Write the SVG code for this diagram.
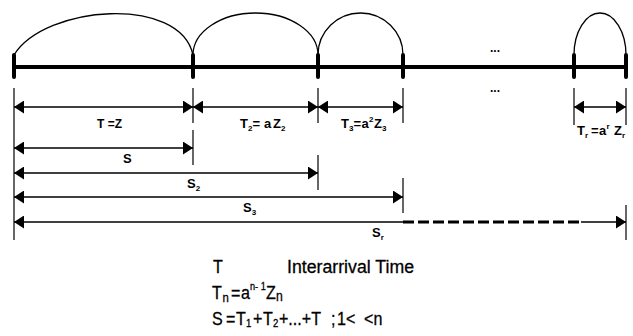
<svg xmlns="http://www.w3.org/2000/svg" width="633" height="336" viewBox="0 0 633 336">
<style>
.bg{fill:#fff}
.tick{stroke:#000;stroke-width:4;stroke-linecap:round;fill:none}
.main{stroke:#000;stroke-width:4;fill:none}
.arc{stroke:#000;stroke-width:1.3;fill:none}
.ext{stroke:#000;stroke-width:1.2;fill:none}
.dim{stroke:#000;stroke-width:1.4;fill:none}
.dash{stroke:#000;stroke-width:3;stroke-dasharray:11 4;fill:none}
.lbl{font-family:"Liberation Sans",Arial,sans-serif;font-weight:bold;font-size:13px;fill:#000}
.sm{font-size:8px}
.big{font-family:"Liberation Sans",Arial,sans-serif;font-size:18.5px;fill:#000;stroke:#000;stroke-width:0.3}
.dots{font-family:"Liberation Sans",Arial,sans-serif;font-weight:bold;font-size:12px;fill:#000}
</style>
<defs>
<marker id="ah" viewBox="0 0 10 13" refX="10" refY="6.5" markerWidth="10" markerHeight="13" markerUnits="userSpaceOnUse" orient="auto-start-reverse">
<path d="M0,0 L10,6.5 L0,13 z" fill="#000"/>
</marker>
</defs>
<rect class="bg" x="0" y="0" width="633" height="336"/>

<g id="timeline">
<line class="main" x1="14" y1="67" x2="626" y2="67"/>
<line class="tick" x1="14" y1="55" x2="14" y2="77"/>
<line class="tick" x1="193" y1="55" x2="193" y2="77"/>
<line class="tick" x1="318" y1="55" x2="318" y2="77"/>
<line class="tick" x1="403" y1="55" x2="403" y2="77"/>
<line class="tick" x1="574" y1="55" x2="574" y2="77"/>
<line class="tick" x1="626" y1="55" x2="626" y2="77"/>
</g>

<g id="arcs">
<path class="arc" d="M14,55 C45,5 180,-5 193,55"/>
<path class="arc" d="M193,55 A62.5,42 0 0 1 318,55"/>
<path class="arc" d="M318,55 A42.5,42 0 0 1 403,55"/>
<path class="arc" d="M574,55 A26,42 0 0 1 626,55"/>
</g>

<g id="ellipsis">
<text class="dots" x="490" y="52">...</text>
<text class="dots" x="490" y="92">...</text>
</g>

<g id="extension-lines">
<line class="ext" x1="14" y1="88" x2="14" y2="240"/>
<line class="ext" x1="193" y1="88" x2="193" y2="123"/>
<line class="ext" x1="193" y1="130" x2="193" y2="165"/>
<line class="ext" x1="318" y1="88" x2="318" y2="123"/>
<line class="ext" x1="318" y1="155" x2="318" y2="190"/>
<line class="ext" x1="403" y1="88" x2="403" y2="123"/>
<line class="ext" x1="403" y1="178" x2="403" y2="213"/>
<line class="ext" x1="574" y1="88" x2="574" y2="125"/>
<line class="ext" x1="626" y1="88" x2="626" y2="125"/>
<line class="ext" x1="626" y1="205" x2="626" y2="240"/>
</g>

<g id="connectors">
<line class="dim" x1="14" y1="107" x2="193" y2="107" marker-start="url(#ah)" marker-end="url(#ah)"/>
<line class="dim" x1="193" y1="107" x2="318" y2="107" marker-start="url(#ah)" marker-end="url(#ah)"/>
<line class="dim" x1="318" y1="107" x2="403" y2="107" marker-start="url(#ah)" marker-end="url(#ah)"/>
<line class="dim" x1="574" y1="107" x2="626" y2="107" marker-start="url(#ah)" marker-end="url(#ah)"/>
<line class="dim" x1="14" y1="148" x2="193" y2="148" marker-start="url(#ah)" marker-end="url(#ah)"/>
<line class="dim" x1="14" y1="173" x2="318" y2="173" marker-start="url(#ah)" marker-end="url(#ah)"/>
<line class="dim" x1="14" y1="197" x2="403" y2="197" marker-start="url(#ah)" marker-end="url(#ah)"/>
<line class="dim" x1="403" y1="222" x2="14" y2="222" marker-end="url(#ah)"/>
<line class="dash" x1="403" y1="222" x2="581" y2="222"/>
<line class="dim" x1="581" y1="222" x2="626" y2="222" marker-end="url(#ah)"/>
</g>

<g id="interval-labels">
<text class="lbl" x="97" y="128" textLength="25" lengthAdjust="spacingAndGlyphs" xml:space="preserve">T =Z</text>
<text class="lbl" y="128"><tspan x="240">T</tspan><tspan class="sm" x="248" y="131">2</tspan><tspan x="252.5" y="128">=</tspan><tspan x="264">a</tspan><tspan x="273">Z</tspan><tspan class="sm" x="281" y="131">2</tspan></text>
<text class="lbl" y="128"><tspan x="341">T</tspan><tspan class="sm" x="349" y="131">3</tspan><tspan x="353.5" y="128">=</tspan><tspan x="361.5">a</tspan><tspan class="sm" x="369" y="122">2</tspan><tspan x="374" y="128">Z</tspan><tspan class="sm" x="382" y="131">3</tspan></text>
<text class="lbl" y="135"><tspan x="577">T</tspan><tspan class="sm" x="585" y="138">r</tspan><tspan x="591" y="135">=</tspan><tspan x="599">a</tspan><tspan class="sm" x="606.5" y="129">r</tspan><tspan x="614" y="135">Z</tspan><tspan class="sm" x="622" y="138">r</tspan></text>
</g>

<g id="sum-labels">
<text class="lbl" x="123" y="163">S</text>
<text class="lbl" x="187" y="188">S<tspan class="sm" dy="3">2</tspan></text>
<text class="lbl" x="243" y="212">S<tspan class="sm" dy="3">3</tspan></text>
<text class="lbl" x="372" y="237">S<tspan class="sm" dy="3">r</tspan></text>
</g>

<g id="legend" transform="translate(212 0) scale(0.87 1)">
<text class="big" x="1.1" y="273">T</text>
<text class="big" x="86.2" y="273" textLength="146" lengthAdjust="spacingAndGlyphs">Interarrival Time</text>
<text class="big" y="299"><tspan x="0">T</tspan><tspan x="12.1" y="302" font-size="13">n</tspan><tspan x="21.8" y="299">=</tspan><tspan x="33.3">a</tspan><tspan x="43.7" y="290" font-size="10.5" xml:space="preserve">n- 1</tspan><tspan x="62.1" y="299">Z</tspan><tspan x="73.6" y="301" font-size="14">n</tspan></text>
<text class="big" y="325"><tspan x="0">S</tspan><tspan x="16.1">=</tspan><tspan x="27.6">T</tspan><tspan x="39.1" y="327" font-size="11">1</tspan><tspan x="47.1" y="325">+</tspan><tspan x="58.6">T</tspan><tspan x="70.1" y="327" font-size="11">2</tspan><tspan x="77" y="325">+...+T</tspan><tspan x="136.8">;</tspan><tspan x="143.7">1&lt;</tspan><tspan x="174.7">&lt;n</tspan></text>
</g>
</svg>
